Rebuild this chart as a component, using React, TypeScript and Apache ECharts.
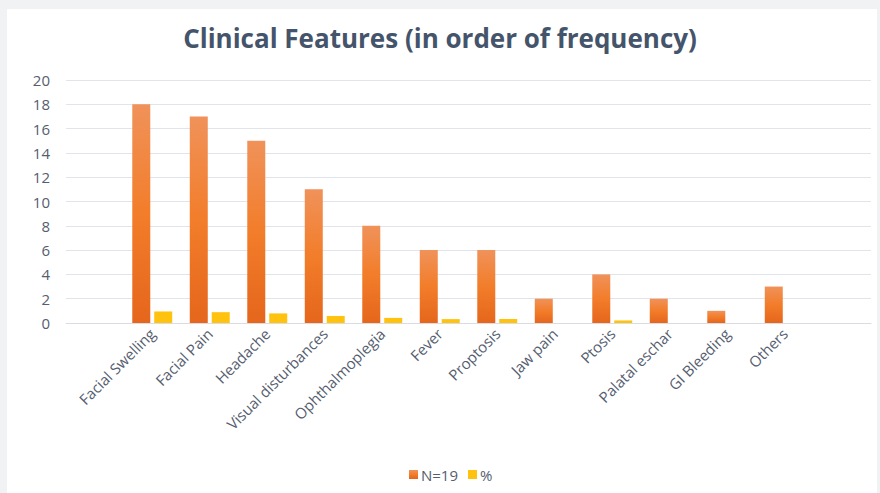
import React, { useEffect, useRef } from "react";
import * as echarts from "echarts";

const categories = [
  "Facial Swelling",
  "Facial Pain",
  "Headache",
  "Visual disturbances",
  "Ophthalmoplegia",
  "Fever",
  "Proptosis",
  "Jaw pain",
  "Ptosis",
  "Palatal eschar",
  "GI Bleeding",
  "Others",
];
const countValues = [18, 17, 15, 11, 8, 6, 6, 2, 4, 2, 1, 3];
const pctValues: (number | null)[] = [0.95, 0.89, 0.79, 0.58, 0.42, 0.32, 0.32, null, 0.21, null, null, null];
const yTicks = [0, 2, 4, 6, 8, 10, 12, 14, 16, 18, 20];

export default function App() {
  const ref = useRef<HTMLDivElement>(null);
  useEffect(() => {
    document.body.style.margin = "0";
    if (!ref.current) return;
    const chart = echarts.init(ref.current, undefined, { renderer: "svg" });
    const paddedCats = ["", ...categories, ""];
    const paddedCounts = [null, ...countValues, null];
    const paddedPct = [null, ...pctValues, null];
    const labelColor = "#555d6f";
    chart.setOption({
      animation: false,
      backgroundColor: "#f1f2f4",
      graphic: [
        {
          type: "rect",
          shape: { x: 7, y: 9, width: 870, height: 484 },
          style: { fill: "#ffffff" },
          z: -10,
        },
      ],
      title: {
        text: "Clinical Features (in order of frequency)",
        left: "center",
        top: 20,
        textStyle: {
          fontFamily: "Open Sans",
          fontSize: 26,
          fontWeight: 700,
          color: "#44546a",
        },
      },
      legend: {
        bottom: 6,
        left: 404,
        itemWidth: 9,
        itemHeight: 9,
        itemGap: 10,
        icon: "rect",
        textStyle: { color: labelColor, fontSize: 15, fontFamily: "Open Sans", padding: [0, 0, 0, -2] },
        data: ["N=19", "%"],
      },
      grid: { left: 66, right: 9, top: 80, bottom: 170, containLabel: false },
      xAxis: {
        type: "category",
        data: paddedCats,
        axisTick: { show: false },
        axisLine: { lineStyle: { color: "#d9dce3", width: 1 } },
        axisLabel: {
          interval: 0,
          rotate: 45,
          color: labelColor,
          fontSize: 15,
          fontFamily: "Open Sans",
          margin: 8,
        },
      },
      yAxis: {
        type: "value",
        min: yTicks[0],
        max: yTicks[yTicks.length - 1],
        interval: 2,
        axisLine: { show: false },
        axisTick: { show: false },
        splitLine: { lineStyle: { color: "#e1e4ea", width: 1 } },
        axisLabel: {
          color: labelColor,
          fontSize: 15,
          fontFamily: "Open Sans",
          margin: 16,
        },
      },
      series: [
        {
          name: "N=19",
          type: "bar",
          data: paddedCounts,
          barWidth: 18,
          barGap: "22%",
          itemStyle: {
            color: new echarts.graphic.LinearGradient(0, 0, 0, 1, [
              { offset: 0, color: "#f0925a" },
              { offset: 0.5, color: "#f27d2a" },
              { offset: 1, color: "#e5661c" },
            ]),
          },
        },
        {
          name: "%",
          type: "bar",
          data: paddedPct,
          barWidth: 18,
          itemStyle: { color: "#ffc20e" },
        },
      ],
    });
    return () => chart.dispose();
  }, []);
  return <div ref={ref} style={{ width: 880, height: 493 }} />;
}
